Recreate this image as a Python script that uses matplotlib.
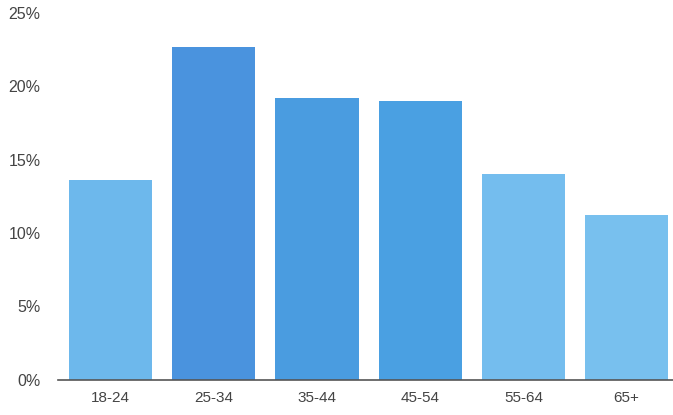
import matplotlib
matplotlib.use("Agg")
import matplotlib.pyplot as plt

ages = ['18-24', '25-34', '35-44', '45-54', '55-64', '65+']
share = [13.6, 22.7, 19.2, 19.0, 14.05, 11.2]
bar_colors = ['#6db8ec', '#4a93de', '#4a9ce0', '#4aa0e2', '#74bdee', '#78c0ee']
yticks = [0, 5, 10, 15, 20, 25]

plt.rcParams['font.family'] = ['Liberation Sans', 'DejaVu Sans']

fig = plt.figure(figsize=(6.73, 4.15), dpi=100)
ax = fig.add_axes([58/673, 35.5/415, 1 - 58/673, 366.5/415])

x = range(len(ages))
ax.bar(x, share, width=0.805, color=bar_colors, zorder=2)

ax.set_xlim(-0.51, 5.45)
ax.set_ylim(0, 25)
ax.set_xticks(list(x))
ax.set_xticklabels(ages)
ax.set_yticks(yticks)
ax.set_yticklabels([f'{t}%' for t in yticks])

for s in ['top', 'right', 'left']:
    ax.spines[s].set_visible(False)
ax.spines['bottom'].set_color('#555555')
ax.spines['bottom'].set_linewidth(1.2)
ax.spines['bottom'].set_zorder(3)

ax.tick_params(axis='both', length=0, colors='#444444')
ax.tick_params(axis='x', pad=8, labelsize=11)
ax.tick_params(axis='y', pad=12.5, labelsize=11.5)

fig.savefig('out.png', dpi=100)
